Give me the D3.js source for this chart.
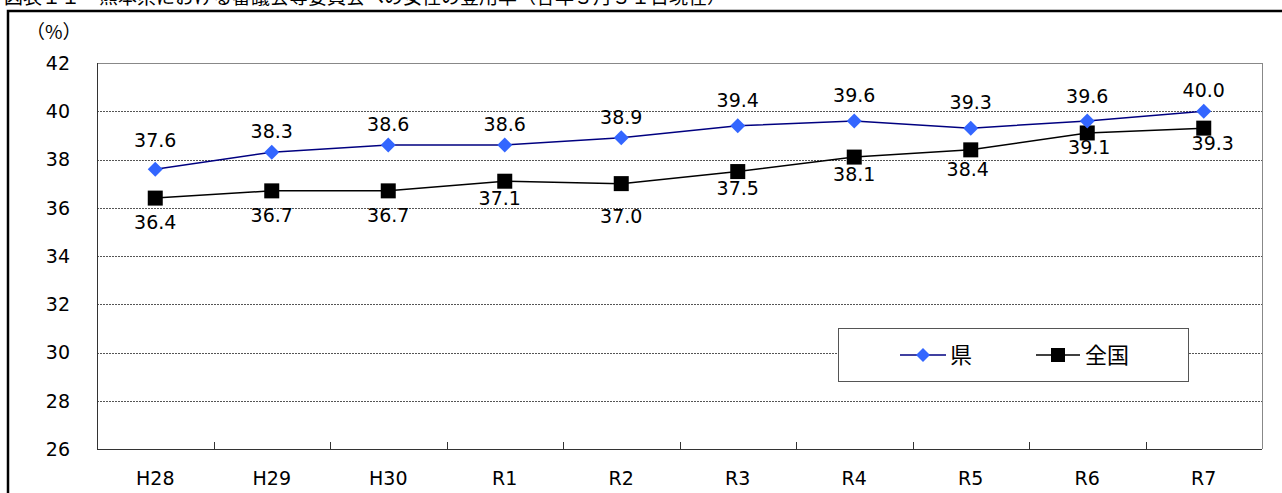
<!DOCTYPE html>
<html><head><meta charset="utf-8">
<script src="https://cdn.jsdelivr.net/npm/d3@7"></script>
<style>
html,body{margin:0;padding:0;background:#fff;overflow:hidden}
svg{display:block;font-family:"DejaVu Sans",sans-serif}
</style></head><body>
<script>
const categories = ["H28","H29","H30","R1","R2","R3","R4","R5","R6","R7"];
const kenValues = [37.6,38.3,38.6,38.6,38.9,39.4,39.6,39.3,39.6,40.0];
const zenkokuValues = [36.4,36.7,36.7,37.1,37.0,37.5,38.1,38.4,39.1,39.3];
const yTicks = [26,28,30,32,34,36,38,40,42];
const seriesNames = ["県","全国"];
const titleText = "図表１１　熊本県における審議会等委員会への女性の登用率（各年３月３１日現在）";
// label placement tweaks (layout, px)
const kenLabelDy = [-29,-21,-21,-21,-21,-26,-26,-26,-25,-21];
const zenLabelDy = [24,24,24,17,33,17,17,19,14,15];
const zenLabelDx = [0,0,0,-5,0,0,0,-3,2,9];

const W=1282,H=493;
const svg=d3.select("body").append("svg").attr("width",W).attr("height",H);
const m={l:97,r:1262,t:63,b:449};
const x=d3.scaleBand().domain(categories).range([m.l,m.r]);
const y=d3.scaleLinear().domain([26,42]).range([m.b,m.t]);
const cx=d=>x(d)+x.bandwidth()/2;
const FS=19;

// title (clipped at top, as in the reference)
svg.append("text").attr("x",4).attr("y",4).attr("font-size",19)
  .attr("font-family","'Noto Sans CJK JP',sans-serif").attr("fill","#000").text(titleText);
// outer frame
svg.append("rect").attr("x",8).attr("y",11).attr("width",1400).attr("height",600)
  .attr("fill","none").attr("stroke","#000").attr("stroke-width",2.5);

svg.append("text").attr("x",26).attr("y",32).attr("dy","0.36em").attr("font-size",19)
  .attr("font-family","'Noto Sans CJK JP',sans-serif").text("（%）");

// grid
const g=svg.append("g");
g.selectAll("line.grid").data(yTicks.filter(v=>v>26&&v<42)).join("line")
  .attr("x1",m.l).attr("x2",m.r).attr("y1",d=>Math.round(y(d))+0.5).attr("y2",d=>Math.round(y(d))+0.5)
  .attr("stroke","#555").attr("stroke-width",1).attr("stroke-dasharray","2,1");
// plot border
g.append("line").attr("x1",m.l).attr("x2",m.r).attr("y1",m.t+0.5).attr("y2",m.t+0.5).attr("stroke","#888");
g.append("line").attr("x1",m.r+0.5).attr("x2",m.r+0.5).attr("y1",m.t).attr("y2",m.b).attr("stroke","#888");
g.append("line").attr("x1",m.l+0.5).attr("x2",m.l+0.5).attr("y1",m.t).attr("y2",m.b).attr("stroke","#333");
g.append("line").attr("x1",m.l).attr("x2",m.r).attr("y1",m.b+0.5).attr("y2",m.b+0.5).attr("stroke","#333");
// x ticks
g.selectAll("line.xt").data(categories.slice(1)).join("line")
  .attr("x1",d=>Math.round(x(d))+0.5).attr("x2",d=>Math.round(x(d))+0.5)
  .attr("y1",m.b).attr("y2",m.b-7).attr("stroke","#333");
// y labels
g.selectAll("text.yl").data(yTicks).join("text")
  .attr("x",70).attr("y",d=>y(d)).attr("dy","0.36em").attr("text-anchor","end")
  .attr("font-size",FS).text(d=>d);
// x labels
g.selectAll("text.xl").data(categories).join("text")
  .attr("x",d=>cx(d)).attr("y",478).attr("dy","0.36em").attr("text-anchor","middle")
  .attr("font-size",FS).text(d=>d);

// lines
const line=d3.line().x((d,i)=>cx(categories[i])).y(d=>y(d));
svg.append("path").datum(zenkokuValues).attr("d",line).attr("fill","none").attr("stroke","#000").attr("stroke-width",1.5);
svg.append("path").datum(kenValues).attr("d",line).attr("fill","none").attr("stroke","#000080").attr("stroke-width",1.5);

const diamondPath=(cxv,cyv,r)=>`M${cxv},${cyv-r}L${cxv+r},${cyv}L${cxv},${cyv+r}L${cxv-r},${cyv}Z`;
svg.selectAll("rect.zm").data(zenkokuValues).join("rect")
  .attr("x",(d,i)=>cx(categories[i])-7.5).attr("y",d=>y(d)-7.5).attr("width",15).attr("height",15).attr("fill","#000");
svg.selectAll("path.km").data(kenValues).join("path")
  .attr("d",(d,i)=>diamondPath(cx(categories[i]),y(d),7.5)).attr("fill","#3366FF");

// data labels
svg.selectAll("text.kl").data(kenValues).join("text")
  .attr("x",(d,i)=>cx(categories[i])).attr("y",(d,i)=>y(d)+kenLabelDy[i]).attr("dy","0.36em")
  .attr("text-anchor","middle").attr("font-size",FS).text(d=>d.toFixed(1));
svg.selectAll("text.zl").data(zenkokuValues).join("text")
  .attr("x",(d,i)=>cx(categories[i])+zenLabelDx[i]).attr("y",(d,i)=>y(d)+zenLabelDy[i]).attr("dy","0.36em")
  .attr("text-anchor","middle").attr("font-size",FS).text(d=>d.toFixed(1));

// legend
const lg=svg.append("g");
lg.append("rect").attr("x",838.5).attr("y",328.5).attr("width",350).attr("height",53)
  .attr("fill","#fff").attr("stroke","#555").attr("stroke-width",1);
const ly=355;
lg.append("line").attr("x1",900).attr("x2",946).attr("y1",ly).attr("y2",ly).attr("stroke","#000080").attr("stroke-width",1.5);
lg.append("path").attr("d",diamondPath(923,ly,7)).attr("fill","#3366FF");
lg.append("text").attr("x",950).attr("y",ly).attr("dy","0.36em").attr("font-size",22)
  .attr("font-family","'Noto Sans CJK JP',sans-serif").text(seriesNames[0]);
lg.append("line").attr("x1",1036).attr("x2",1080).attr("y1",ly).attr("y2",ly).attr("stroke","#000").attr("stroke-width",1.5);
lg.append("rect").attr("x",1051).attr("y",ly-7).attr("width",14).attr("height",14).attr("fill","#000");
lg.append("text").attr("x",1085).attr("y",ly).attr("dy","0.36em").attr("font-size",22)
  .attr("font-family","'Noto Sans CJK JP',sans-serif").text(seriesNames[1]);
</script>
</body></html>
